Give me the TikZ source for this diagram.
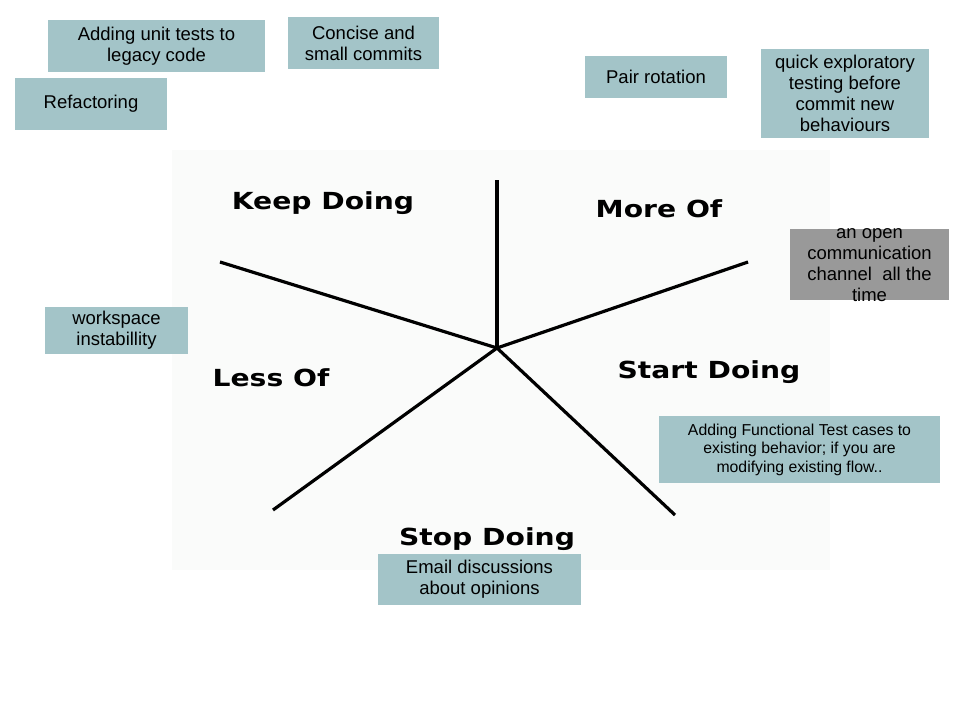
\documentclass[tikz,border=0pt]{standalone}
\usepackage{fontspec}
\setmainfont{Liberation Sans}
\newfontfamily\labelfont{DejaVu Sans}
\usetikzlibrary{positioning}
\definecolor{notecol}{RGB}{163,196,200}
\definecolor{greynote}{RGB}{153,153,153}
\definecolor{panelcol}{RGB}{250,251,250}
\begin{document}
\begin{tikzpicture}[x=1pt,y=-1pt,
  note/.style={fill=notecol,inner sep=0pt,align=center,
    font=\fontsize{18.5}{21}\selectfont},
  smallnote/.style={note,font=\fontsize{15.8}{18.5}\selectfont},
  quadrant/.style={font=\labelfont\bfseries\fontsize{23.5}{26}\selectfont,
    xscale=1.2,transform shape},
  spoke/.style={line width=3.2pt}]
\useasboundingbox (0,0) rectangle (960,720);
\fill[panelcol] (172,150) rectangle (830,570);
% the five spokes
\coordinate (C) at (497,348);
\coordinate (top) at (497,180);
\coordinate (ul) at (220,262);
\coordinate (ur) at (748,262);
\coordinate (ll) at (273,510);
\coordinate (lr) at (675,515);
\foreach \e in {top,ul,ur,ll,lr}
  \draw[spoke] (C)--(\e);
% quadrant titles
\node[quadrant] (keep) at (323,203) {Keep Doing};
\node[quadrant] (more) at (659,209) {More Of};
\node[quadrant] (less) at (271,378) {Less Of};
\node[quadrant] (start) at (709,372) {Start Doing};
\node[quadrant] (stop) at (487,539) {Stop Doing};
% sticky notes
\node[note,minimum width=217,minimum height=52] (unit) at (156.5,46) {Adding unit tests to\\legacy code};
\node[note,minimum width=151,minimum height=52] (commits) at (363.5,43) {Concise and\\small commits};
\node[note,minimum width=152,minimum height=52] (refac) at (91,104) {Refactoring};
\node[note,minimum width=142,minimum height=42] (pair) at (656,77) {Pair rotation};
\node[note,minimum width=168,minimum height=89] (explore) at (845,93.5) {quick exploratory\\testing before\\commit new\\behaviours};
\node[fill=greynote,minimum width=159,minimum height=71,inner sep=0pt] (chan) at (869.5,264.5) {};
\node[align=center,inner sep=0pt,font=\fontsize{18.5}{21}\selectfont] (chantext) at (869.5,265) {an open\\communication\\channel\ \ all the\\time};
\node[note,minimum width=143,minimum height=47] (workspace) at (116.5,330.5) {workspace\\instabillity};
\node[smallnote,minimum width=281,minimum height=67] (functional) at (799.5,449.5) {Adding Functional Test cases to\\existing behavior; if you are\\modifying existing flow..};
\node[note,minimum width=203,minimum height=51] (email) at (479.5,579.5) {Email discussions\\about opinions};
\end{tikzpicture}
\end{document}
